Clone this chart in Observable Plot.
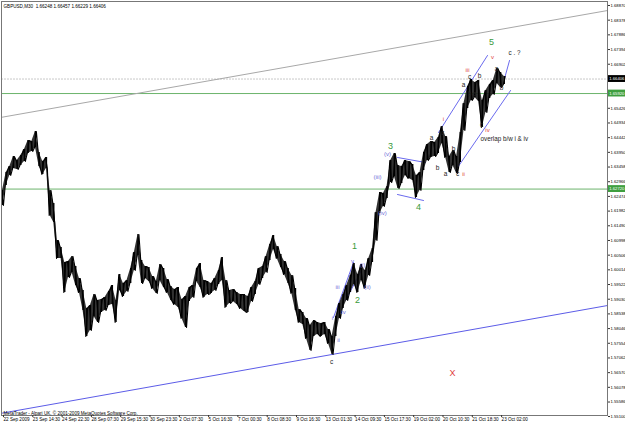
<!DOCTYPE html>
<html><head><meta charset="utf-8">
<script src="https://cdn.jsdelivr.net/npm/d3@7"></script>
<script src="https://cdn.jsdelivr.net/npm/@observablehq/plot@0.6"></script>
<style>
body{margin:0;background:#fff;}
#chart{width:625px;height:425px;overflow:hidden;}
</style></head><body><div id="chart"></div>
<script>
// ---- data (M30 bars, sampled every 8 bars) ----
const step = 8;
const hi = [1.62672,1.63275,1.63476,1.63811,1.63677,1.63845,1.64046,1.64347,1.64314,1.64649,
1.63945,1.63644,1.63778,1.62672,1.62237,1.60997,1.60763,1.60260,1.60294,1.60461,
1.60126,1.59724,1.59322,1.58719,1.58820,1.59188,1.58987,1.59021,1.59088,1.59289,
1.59490,1.58987,1.59858,1.59557,1.59657,1.60059,1.60595,1.61198,1.60327,1.60126,
1.60093,1.59791,1.59624,1.60193,1.60059,1.59691,1.59456,1.59356,1.59423,1.59021,
1.59121,1.59423,1.59490,1.60059,1.60227,1.59657,1.59624,1.59557,1.59724,1.59992,
1.60428,1.59657,1.59322,1.59356,1.59255,1.59188,1.59188,1.59121,1.59423,1.59624,
1.60059,1.60126,1.60461,1.60863,1.61165,1.60796,1.60528,1.60294,1.60059,1.59825,
1.59389,1.58686,1.58585,1.58384,1.58150,1.58317,1.58250,1.58217,1.58250,1.58016,
1.57781,1.58451,1.58887,1.59188,1.59490,1.59825,1.60227,1.59858,1.60193,1.59992,
1.60394,1.60729,1.61935,1.62605,1.62572,1.62806,1.63677,1.63912,1.63510,1.63476,
1.63677,1.63644,1.63543,1.63175,1.63275,1.63945,1.64213,1.64314,1.64280,1.64448,
1.64816,1.64481,1.63811,1.64012,1.63811,1.64615,1.65587,1.66156,1.66391,1.66290,
1.66357,1.65687,1.66022,1.66223,1.66357,1.66759,1.66625,1.66491];
const lo = [1.62170,1.62840,1.63175,1.63409,1.63376,1.63510,1.63644,1.63912,1.63979,1.64113,
1.63476,1.63208,1.63409,1.61835,1.61600,1.60394,1.60394,1.59255,1.59758,1.59925,
1.59490,1.59255,1.58652,1.57781,1.57982,1.58451,1.58250,1.58585,1.58652,1.58820,
1.58853,1.58250,1.59322,1.59121,1.59289,1.59557,1.59992,1.60495,1.59557,1.59724,
1.59624,1.59389,1.59222,1.59657,1.59423,1.59255,1.58987,1.58853,1.58753,1.58384,
1.58083,1.58954,1.59088,1.59624,1.59423,1.59088,1.59188,1.59222,1.59322,1.59523,
1.59657,1.58753,1.58887,1.58954,1.58853,1.58719,1.58619,1.58585,1.58954,1.59188,
1.59523,1.59724,1.59925,1.60327,1.60696,1.60394,1.60093,1.59858,1.59557,1.59222,
1.58652,1.58250,1.58183,1.57714,1.57312,1.57781,1.57848,1.57781,1.57848,1.57547,
1.57178,1.57781,1.58384,1.58719,1.58987,1.59255,1.59523,1.59255,1.59657,1.59389,
1.59825,1.60260,1.60997,1.61902,1.62136,1.62404,1.62940,1.63141,1.62739,1.62907,
1.63175,1.63074,1.63007,1.62438,1.62672,1.63342,1.63677,1.63778,1.63811,1.63912,
1.64247,1.63778,1.63275,1.63510,1.63242,1.63610,1.64682,1.65419,1.65687,1.65788,
1.65654,1.64783,1.65285,1.65754,1.65888,1.66257,1.66123,1.66223];

const titleText = "GBPUSD,M30  1.66248 1.66457 1.66229 1.66406";
const copyright = "MetaTrader - Alpari UK, \u00a9 2001-2009 MetaQuotes Software Corp.";

const yTicks = [1.68870,1.68378,1.67886,1.67394,1.66902,1.65426,1.64934,1.64442,1.63950,1.63458,
1.62966,1.62474,1.61982,1.61490,1.60998,1.60506,1.60014,1.59522,1.59030,1.58538,1.58046,
1.57554,1.57062,1.56570,1.56078,1.55586,1.55100];
const xTickBars = [0,64,128,192,256,320,384,448,512,576,640,704,768,832,896,960,1024,1088];
const xTickLabels = ["22 Sep 2009","23 Sep 14:30","24 Sep 22:30","28 Sep 07:30","29 Sep 15:30",
"30 Sep 23:30","2 Oct 07:30","5 Oct 16:30","7 Oct 00:30","8 Oct 08:30","9 Oct 16:30",
"13 Oct 01:30","14 Oct 09:30","15 Oct 17:30","19 Oct 02:00","20 Oct 10:30","21 Oct 18:30","23 Oct 02:00"];

const bidLevel = 1.66406;
const greenLevels = [1.65920, 1.62720];

const grayLine = [{bar:-5,p:1.65116},{bar:1322,p:1.68702}];
const blueLine = [{bar:-5,p:1.55202},{bar:1322,p:1.58820}];
const waveLines = [
 {id:"chU",bar:952.4,p:1.64615},{id:"chU",bar:1059.4,p:1.67195},
 {id:"chL",bar:989.5,p:1.63342},{id:"chL",bar:1109.7,p:1.66022},
 {id:"cq",bar:1096.6,p:1.66424},{id:"cq",bar:1107.5,p:1.67027},
 {id:"tU",bar:862.8,p:1.63778},{id:"tU",bar:924,p:1.63610},
 {id:"tL",bar:862.8,p:1.62538},{id:"tL",bar:919.6,p:1.62337},
 {id:"sA",bar:723,p:1.58418},{id:"sA",bar:766.7,p:1.60260},
 {id:"sB",bar:749.2,p:1.58987},{id:"sB",bar:786.4,p:1.60059}
];

const greenLabels = [{t:"5",bar:1068.2,p:1.67630},{t:"3",bar:847.5,p:1.64146},{t:"4",bar:908.7,p:1.62103},
 {t:"1",bar:768.9,p:1.60796},{t:"2",bar:775.4,p:1.58987}];
const redLabels = [{t:"v",bar:1070.3,p:1.67128},{t:"iii",bar:1015.7,p:1.66692},{t:"i",bar:963.3,p:1.65051},
 {t:"ii",bar:1007,p:1.63208},{t:"iv",bar:1059.4,p:1.64682}];
const redX = [{t:"X",bar:983,p:1.56542}];
const blackLabels = [{t:"a",bar:1007,p:1.66223},{t:"c",bar:1020.1,p:1.66491},{t:"b",bar:1042,p:1.66525},
 {t:"b",bar:1020.1,p:1.65922},{t:"a",bar:1031,p:1.65922},{t:"a",bar:1079.1,p:1.66759},
 {t:"b",bar:1090,p:1.66123},{t:"c",bar:1046.3,p:1.64883},{t:"c",bar:961.1,p:1.64615},
 {t:"a",bar:937.1,p:1.64448},{t:"b",bar:985.2,p:1.64079},{t:"b",bar:950.2,p:1.63443},
 {t:"a",bar:967.7,p:1.63242},{t:"c",bar:993.9,p:1.63242},{t:"c",bar:718.7,p:1.56944}];
const noteLabels = [{t:"c . ?",bar:1105.3,p:1.67295},{t:"overlap b/w i & iv",bar:1044.1,p:1.64414}];
const purpleLabels = [{t:"(v)",bar:841,p:1.63878},{t:"(iii)",bar:819.1,p:1.63108},{t:"(iv)",bar:830.1,p:1.61902},
 {t:"(ii)",bar:797.3,p:1.59423},{t:"(i)",bar:786.4,p:1.60160},{t:"v",bar:764.5,p:1.60294},
 {t:"iii",bar:731.8,p:1.59423},{t:"iv",bar:744.9,p:1.58585},{t:"i",bar:720.8,p:1.58384},
 {t:"ii",bar:734,p:1.57647}];
const boxes = [{p:1.66406,fill:"#000",txt:"1.66406"},{p:1.65920,fill:"#3f9f3f",txt:"1.65920"},{p:1.62720,fill:"#3f9f3f",txt:"1.62720"}];

// ---- build ----
const bars = hi.map((h,i)=>({bar:i*step, hi:h, lo:lo[i]}));
// zig-zag path through each sample's high and low to mimic dense OHLC bars
const zig = [];
bars.forEach((d,i)=>{
  if (i % 2 === 0) { zig.push({bar:d.bar-2, p:d.hi}); zig.push({bar:d.bar+2, p:d.lo}); }
  else { zig.push({bar:d.bar-2, p:d.lo}); zig.push({bar:d.bar+2, p:d.hi}); }
});
const labelMap = new Map(xTickBars.map((b,i)=>[b,xTickLabels[i]]));
const FONT = "Liberation Sans, Arial, sans-serif";
const xBox1 = 1323.7, xBox2 = 1362, xBoxT = 1325.4;

const chart = Plot.plot({
  width:625, height:425, marginLeft:1, marginTop:1, marginRight:18, marginBottom:10,
  style:{background:"#fff", fontFamily:FONT},
  x:{domain:[-2.18,1321.5], axis:null},
  y:{domain:[1.551345,1.690035], axis:null},
  marks:[
    Plot.ruleY([bidLevel], {stroke:"#c8c8c8", strokeDasharray:"2,1"}),
    Plot.ruleY(greenLevels, {stroke:"#6cb46c"}),
    Plot.line(grayLine, {x:"bar", y:"p", stroke:"#a8a8a8", strokeWidth:1, clip:true}),
    Plot.line(blueLine, {x:"bar", y:"p", stroke:"#5c5ce8", strokeWidth:1, clip:true}),
    Plot.line(waveLines, {x:"bar", y:"p", z:"id", stroke:"#6a6aee", strokeWidth:1}),
    Plot.areaY(bars, {x:"bar", y1:"lo", y2:"hi", fill:"#1c1c1c", fillOpacity:0.9, curve:"linear"}),
    Plot.ruleX(bars, {x:"bar", y1:"lo", y2:"hi", stroke:"#000", strokeWidth:1.4}),
    Plot.line(zig, {x:"bar", y:"p", stroke:"#000", strokeWidth:1.1, curve:"linear"}),
    Plot.frame({stroke:"#777"}),
    Plot.axisY(yTicks, {anchor:"right", tickSize:2, tickPadding:1, tickFormat:d=>d.toFixed(5), fontSize:4.2, label:null, fill:"#000", stroke:"#333"}),
    Plot.axisX(xTickBars, {anchor:"bottom", tickSize:2, tickPadding:0.5, tickFormat:d=>labelMap.get(d), textAnchor:"start", dx:1, fontSize:4.6, label:null, fill:"#000", stroke:"#333"}),
    Plot.rect(boxes, {x1:xBox1, x2:xBox2, y1:d=>d.p-0.00115, y2:d=>d.p+0.00115, fill:"fill"}),
    Plot.text(boxes, {x:xBoxT, y:"p", text:"txt", fill:"#fff", fontSize:4.2, textAnchor:"start"}),
    Plot.text([titleText], {frameAnchor:"top-left", dx:2, dy:3, lineAnchor:"top", textAnchor:"start", fontSize:4.6, fill:"#000"}),
    Plot.text([copyright], {frameAnchor:"bottom-left", dx:2, dy:-1, lineAnchor:"bottom", textAnchor:"start", fontSize:4.6, fill:"#000"}),
    Plot.text(greenLabels, {x:"bar", y:"p", text:"t", fill:"#3a9a3a", fontSize:9}),
    Plot.text(redLabels, {x:"bar", y:"p", text:"t", fill:"#e03a3a", fontSize:6}),
    Plot.text(redX, {x:"bar", y:"p", text:"t", fill:"#e03a3a", fontSize:9}),
    Plot.text(blackLabels, {x:"bar", y:"p", text:"t", fill:"#222", fontSize:6.5}),
    Plot.text(noteLabels, {x:"bar", y:"p", text:"t", fill:"#222", fontSize:6.3, textAnchor:"start"}),
    Plot.text(purpleLabels, {x:"bar", y:"p", text:"t", fill:"#6c6cd8", fontSize:6})
  ]
});
document.getElementById("chart").appendChild(chart);
</script></body></html>
